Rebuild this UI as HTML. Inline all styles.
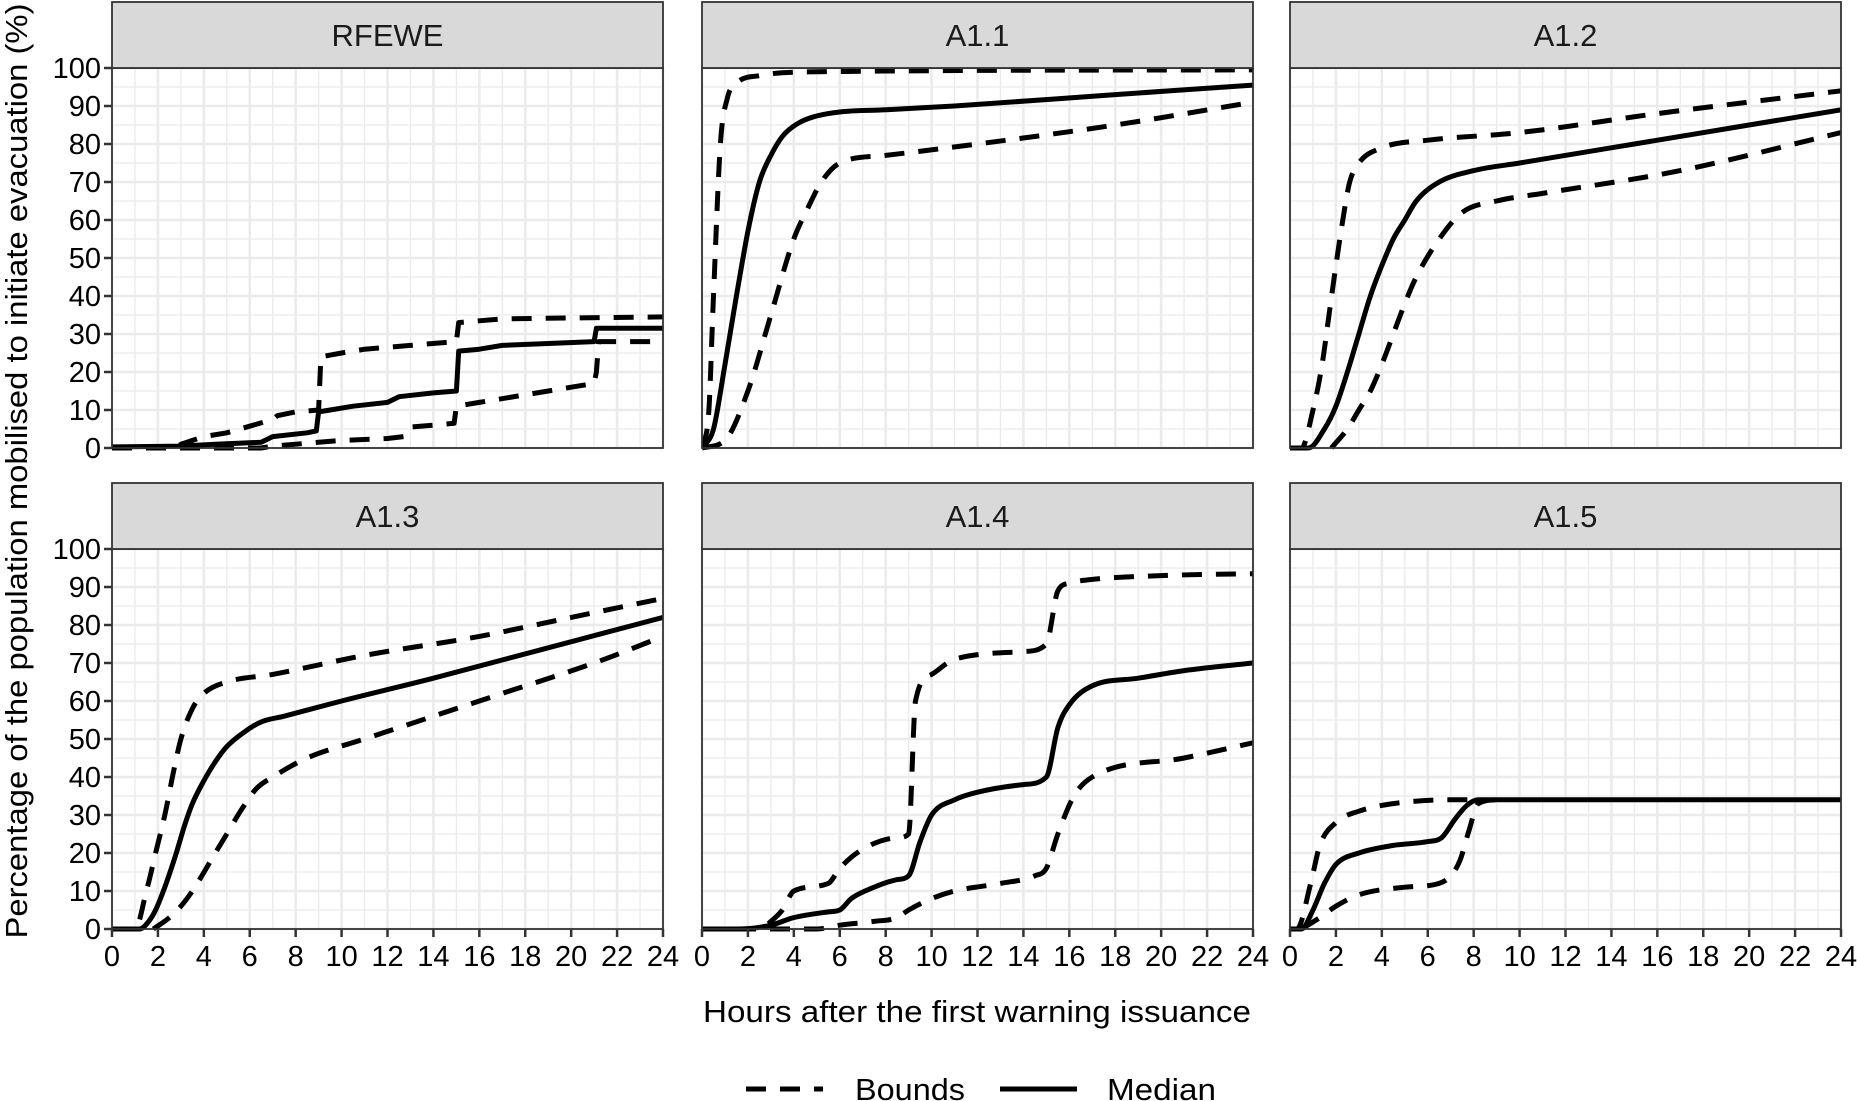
<!DOCTYPE html>
<html><head><meta charset="utf-8"><style>
body{margin:0;background:#fff}
svg{display:block;font-family:"Liberation Sans",Arial,sans-serif}
</style></head><body>
<svg id="chart" width="1857" height="1101" viewBox="0 0 1857 1101" xmlns="http://www.w3.org/2000/svg">
<text transform="translate(27,471) rotate(-90)" text-anchor="middle" font-size="31" textLength="935" lengthAdjust="spacingAndGlyphs" fill="#000">Percentage of the population mobilised to initiate evacuation (%)</text>
<text x="977" y="1022" text-anchor="middle" font-size="31" textLength="548" lengthAdjust="spacingAndGlyphs" fill="#000">Hours after the first warning issuance</text>
<g>
<line x1="746" y1="1089" x2="823" y2="1089" stroke="#000" stroke-width="5" stroke-dasharray="20,14"/>
<text x="855" y="1100" font-size="31" textLength="110" lengthAdjust="spacingAndGlyphs">Bounds</text>
<line x1="1000" y1="1089" x2="1077" y2="1089" stroke="#000" stroke-width="5"/>
<text x="1107" y="1100" font-size="31" textLength="109" lengthAdjust="spacingAndGlyphs">Median</text>
</g>
</svg>
<script>
const panelNames = ["RFEWE","A1.1","A1.2","A1.3","A1.4","A1.5"];
const xTicks = [0,2,4,6,8,10,12,14,16,18,20,22,24];
const yTicks = [0,10,20,30,40,50,60,70,80,90,100];
const rfeweMedian = [[0,0.3],[3,0.5],[4.5,1],[6.5,1.5],[7,3],[8.5,4],[8.9,4.5],[9,9.5],[9.5,10],[10.5,11],[12,12],[12.5,13.5],[14,14.5],[15,15],[15.1,25.5],[16,26],[17,27],[19,27.5],[21,28],[21.1,31.5],[24,31.5]];
const rfeweUpper = [[0,0],[2.9,0],[3,1],[4,3],[5,4],[7,7.5],[7.2,8.5],[8,9.5],[9,10],[9.1,24],[10,25],[11,26],[13,27],[15,28],[15.1,33],[17,34],[24,34.5]];
const rfeweLower = [[0,0],[6.5,0],[7,0.5],[9,1.5],[10,2],[12,2.5],[12.7,3],[13,5.5],[14,6],[14.9,6.5],[15,11],[16,12],[18,14],[20,16],[21,17],[21.1,20],[21.2,28],[24,28]];
const a11Median = [[0,0],[0.5,5],[1,22],[1.5,40],[2,57],[2.5,70],[3,77],[3.5,82],[4.2,85.5],[5.5,88],[8,89],[11,90],[18,93],[24,95.5]];
const a11Upper = [[0,0],[0.3,10],[0.5,40],[0.8,80],[1.1,92],[1.5,96],[2.5,98],[5,99],[24,99.5]];
const a11Lower = [[0,0],[1,2],[2,15],[3,35],[4,55],[4.6,63],[5.2,70],[6,75],[8,77],[12,80],[18,85],[24,91]];
const a12Median = [[0,0],[0.8,0],[1.5,5],[2,11],[2.5,20],[3,30],[3.5,40],[4,48],[4.5,55],[5,60],[5.5,65],[6.5,70],[8,73],[10,75],[15,80],[24,89]];
const a12Upper = [[0,0],[0.5,0],[1,10],[1.4,22],[1.7,35],[2,48],[2.3,60],[2.6,70],[3,75],[4,79],[6,81],[10,83],[16,88],[24,94]];
const a12Lower = [[1.8,0],[2.5,5],[3,10],[3.5,15],[4,22],[4.5,30],[5,38],[5.5,45],[6.5,55],[7.5,62],[9,65],[11,67],[17,73],[24,83]];
const a13Median = [[0,0],[1.2,0],[1.6,2],[1.9,5],[2.3,11],[2.8,20],[3.2,28],[3.5,33],[4,39],[4.5,44],[5,48],[5.8,52],[6.5,54.5],[7.5,56],[10,60],[14,66],[19,74],[24,82]];
const a13Upper = [[0,0],[1,0],[1.5,10],[1.9,20],[2.3,30],[2.7,42],[3,50],[3.5,58],[4,62],[5,65],[7,67],[11,72],[16,77],[20,82],[24,87]];
const a13Lower = [[1.8,0],[2.5,3],[3,6],[3.5,10],[4.5,20],[5,25],[5.7,32],[6.3,37],[7,40],[8.5,45],[11,50],[14,56],[17,62],[21,70],[24,77]];
const a14Median = [[0,0],[1.5,0],[3,1],[4,3],[5.5,4.5],[6,5],[6.5,8],[7.5,11],[8.5,13],[9,14],[9.5,23],[10,30],[11,34],[12,36],[14,38],[15,40],[15.5,53],[16,59],[17,64],[19,66],[21,68],[24,70]];
const a14Upper = [[0,0],[2.5,0],[3,2],[3.5,5],[4,10],[5.5,12],[6,16],[7,21],[8.5,24],[9,25],[9.3,60],[10,67],[11,71],[14,73],[15,75],[15.5,89],[16,91],[17,92],[20,93],[24,93.5]];
const a14Lower = [[0,0],[5,0],[6,1],[7.5,2],[8.5,3],[9,5],[10,8],[11,10],[13,12],[14.5,14],[15,16],[15.5,25],[16.2,35],[17,40],[21,45],[24,49]];
const a15Median = [[0,0],[0.5,0],[1,5],[1.5,12],[2,17],[3,20],[4.5,22],[6,23],[6.6,24],[7.2,29],[7.7,32.5],[8.2,34],[9,34],[24,34]];
const a15Upper = [[0,0],[0.3,0],[0.9,12],[1.3,22],[2,28],[3,31],[4.5,33],[7,34],[8.3,34]];
const a15Lower = [[0.5,0],[1.3,3],[2,6],[3,9],[5,11],[6.5,12],[7,14],[7.4,18],[7.8,26],[8.2,33],[9,34]];
const medians = [rfeweMedian,a11Median,a12Median,a13Median,a14Median,a15Median];
const uppers = [rfeweUpper,a11Upper,a12Upper,a13Upper,a14Upper,a15Upper];
const lowers = [rfeweLower,a11Lower,a12Lower,a13Lower,a14Lower,a15Lower];

const NS="http://www.w3.org/2000/svg";
const svg=document.getElementById('chart');
const colX=[112,702,1290], PW=551;
const rowY=[68,549], PH=380, STRIP=66;
function mk(tag,attrs,parent){const e=document.createElementNS(NS,tag);for(const k in attrs)e.setAttribute(k,attrs[k]);(parent||svg).appendChild(e);return e;}
function monotonePath(P){
  const n=P.length; if(n<3) return 'M'+P.map(p=>p[0].toFixed(1)+','+p[1].toFixed(1)).join('L');
  const d=[],m=[];
  for(let i=0;i<n-1;i++){const dx=P[i+1][0]-P[i][0];d.push(dx===0?0:(P[i+1][1]-P[i][1])/dx);}
  m[0]=d[0];m[n-1]=d[n-2];
  for(let i=1;i<n-1;i++){m[i]=(d[i-1]*d[i]<=0)?0:(d[i-1]+d[i])/2;}
  for(let i=0;i<n-1;i++){if(d[i]===0){m[i]=0;m[i+1]=0;continue;}const a=m[i]/d[i],b=m[i+1]/d[i],s=a*a+b*b;if(s>9){const t=3/Math.sqrt(s);m[i]=t*a*d[i];m[i+1]=t*b*d[i];}}
  let s='M'+P[0][0].toFixed(1)+','+P[0][1].toFixed(1);
  for(let i=0;i<n-1;i++){const h=(P[i+1][0]-P[i][0])/3;
    s+='C'+(P[i][0]+h).toFixed(1)+','+(P[i][1]+m[i]*h).toFixed(1)+' '+(P[i+1][0]-h).toFixed(1)+','+(P[i+1][1]-m[i+1]*h).toFixed(1)+' '+P[i+1][0].toFixed(1)+','+P[i+1][1].toFixed(1);}
  return s;
}
panelNames.forEach((name,i)=>{
  const c=i%3,r=Math.floor(i/3);
  const x0=colX[c],y0=rowY[r];
  const sx=v=>x0+v/24*PW, sy=v=>y0+PH-v/100*PH;
  const g=mk('g',{});
  
  
  mk('rect',{x:x0,y:y0,width:PW,height:PH,fill:'#fff'},g);
  for(let h=1;h<24;h+=2){mk('line',{x1:sx(h),x2:sx(h),y1:y0,y2:y0+PH,stroke:'#ebebeb','stroke-width':1.3},g);}
  for(let v=5;v<100;v+=10){mk('line',{x1:x0,x2:x0+PW,y1:sy(v),y2:sy(v),stroke:'#ebebeb','stroke-width':1.3},g);}
  xTicks.forEach(h=>mk('line',{x1:sx(h),x2:sx(h),y1:y0,y2:y0+PH,stroke:'#ebebeb','stroke-width':2.6},g));
  yTicks.forEach(v=>mk('line',{x1:x0,x2:x0+PW,y1:sy(v),y2:sy(v),stroke:'#ebebeb','stroke-width':2.6},g));
  const clipId='clip'+i;
  const cp=mk('clipPath',{id:clipId},g);mk('rect',{x:x0,y:y0-4,width:PW,height:PH+8},cp);
  const path=(pts,dash,nm)=>{
    const P=pts.map(q=>[sx(q[0]),sy(q[1])]);
    const dstr = i===0 ? 'M'+P.map(p=>p[0].toFixed(1)+','+p[1].toFixed(1)).join('L') : monotonePath(P);
    const p=mk('path',{d:dstr,fill:'none',stroke:'#000','stroke-width':5,'stroke-linejoin':'round','clip-path':'url(#'+clipId+')'},g);
    if(dash)p.setAttribute('stroke-dasharray','20,14');
    
    };
  path(uppers[i],true,'upper-bound-line');
  path(lowers[i],true,'lower-bound-line');
  path(medians[i],false,'median-line');
  mk('rect',{x:x0,y:y0,width:PW,height:PH,fill:'none',stroke:'#333','stroke-width':1.8},g);
  const st=mk('rect',{x:x0,y:y0-STRIP,width:PW,height:STRIP,fill:'#d9d9d9',stroke:'#333','stroke-width':1.8},g);
  
  
  const t=mk('text',{x:x0+PW/2,y:y0-STRIP/2+11,'text-anchor':'middle','font-size':31,fill:'#1a1a1a'},g);t.textContent=name;
  
  
  if(c===0){yTicks.forEach(v=>{mk('line',{x1:x0-8,x2:x0,y1:sy(v),y2:sy(v),stroke:'#333','stroke-width':2.5},g);
    const l=mk('text',{x:x0-11,y:sy(v)+10,'text-anchor':'end','font-size':29,fill:'#000'},g);l.textContent=v;
    
    });}
  if(r===1){xTicks.forEach(h=>{mk('line',{x1:sx(h),x2:sx(h),y1:y0+PH,y2:y0+PH+8,stroke:'#333','stroke-width':2.5},g);
    const l=mk('text',{x:sx(h),y:y0+PH+37,'text-anchor':'middle','font-size':29,fill:'#000'},g);l.textContent=h;
    
    });}
});
</script>
</body></html>
